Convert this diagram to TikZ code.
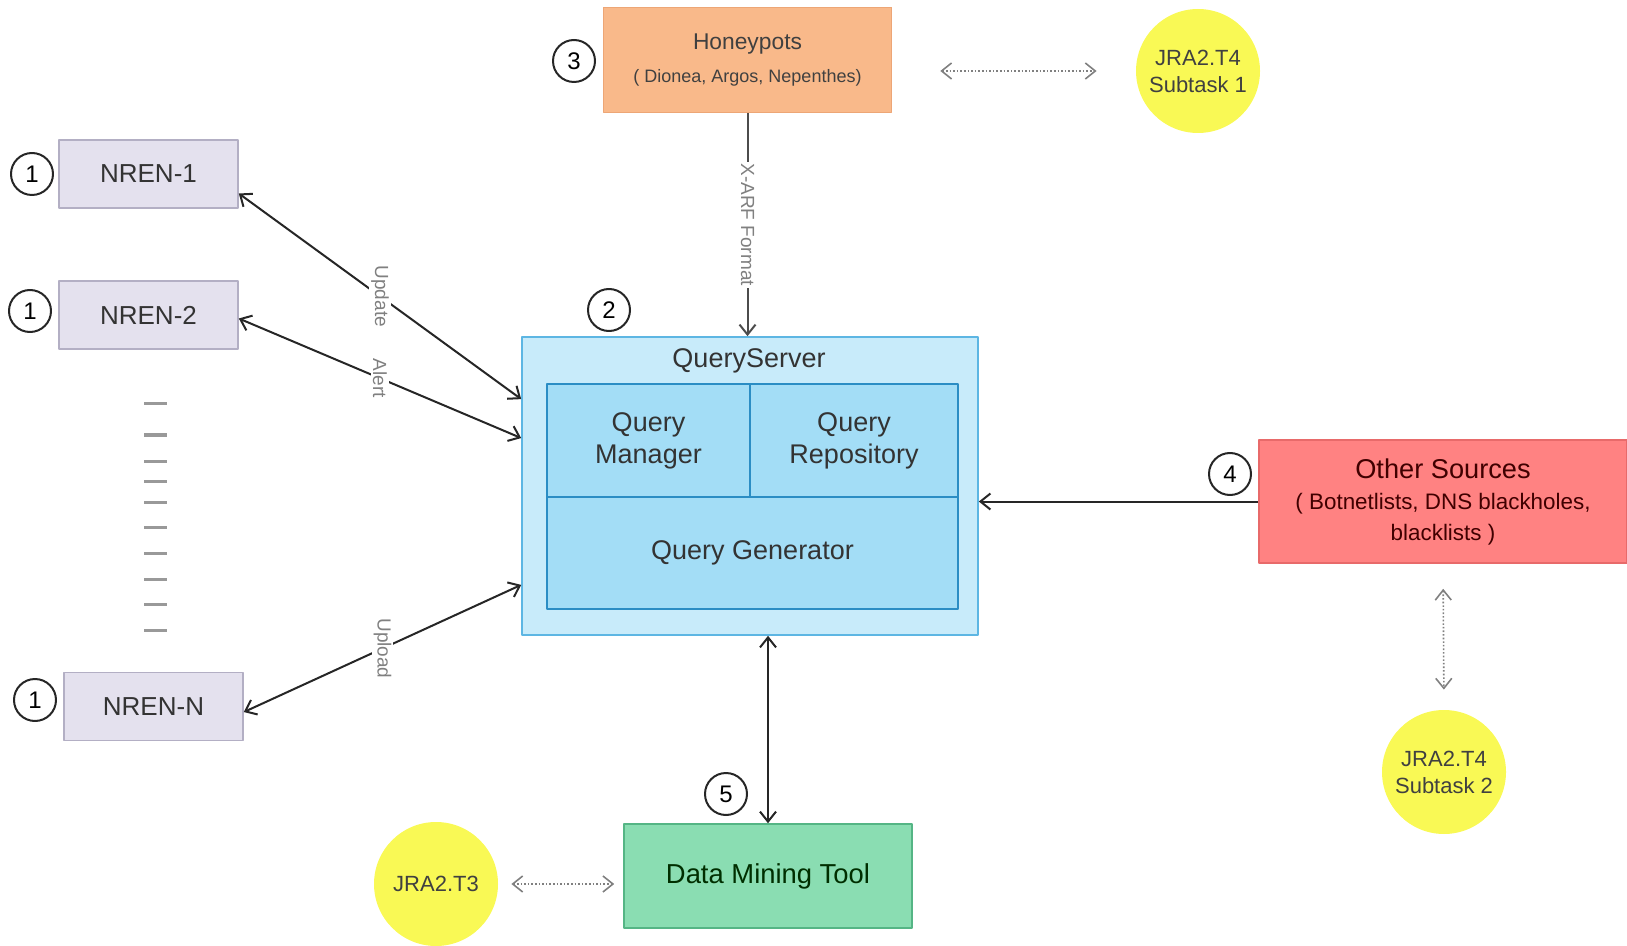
\documentclass[tikz,border=0pt]{standalone}
\usepackage{fontspec}
\setmainfont{Liberation Sans}
\usetikzlibrary{arrows.meta,calc}
\definecolor{nrenfill}{HTML}{E4E1EE}
\definecolor{nrendraw}{HTML}{B3AFC4}
\definecolor{hpfill}{HTML}{F9B98A}
\definecolor{hpdraw}{HTML}{EDA676}
\definecolor{qsfill}{HTML}{C8EBFA}
\definecolor{qsdraw}{HTML}{5DB6E3}
\definecolor{qfill}{HTML}{A3DDF6}
\definecolor{qdraw}{HTML}{2B8DC4}
\definecolor{otherfill}{HTML}{FF8282}
\definecolor{otherdraw}{HTML}{E86A6A}
\definecolor{dmtfill}{HTML}{8ADDB2}
\definecolor{dmtdraw}{HTML}{55B585}
\definecolor{taskyellow}{HTML}{F9F955}
\definecolor{txtgray}{HTML}{333333}
\begin{document}
\begin{tikzpicture}[x=0.5pt,y=-0.5pt,line join=round,>={Straight Barb[length=5pt,width=8pt]},
	box/.style={draw,line width=0.8pt,inner sep=0pt,align=center,text=txtgray},
	nren/.style={box,fill=nrenfill,draw=nrendraw,minimum width=89.5pt,minimum height=34pt,font=\fontsize{13}{15}\selectfont},
	qpart/.style={box,fill=qfill,draw=qdraw,font=\fontsize{13.5}{16}\selectfont},
	num/.style={circle,draw=black!85,line width=1pt,minimum size=21pt,inner sep=0pt,font=\fontsize{12}{14}\selectfont},
	task/.style={circle,fill=taskyellow,minimum size=62pt,inner sep=0pt,align=center,text=black!75,font=\fontsize{11}{13.5}\selectfont},
	flow/.style={<->,line width=1pt,draw=black!85},
	link/.style={<->,densely dotted,line width=0.8pt,draw=gray},
	tag/.style={fill=white,inner sep=1pt,rotate=-90,text=gray,font=\fontsize{9.5}{11}\selectfont}]
	\useasboundingbox (0,0) rectangle (1627,946);
	% NRENs
	\node[nren] (nren1) at (148.5,174) {NREN-1};
	\node[nren] (nren2) at (148.5,315) {NREN-2};
	\node[nren] (nrenN) at (153.5,706.5) {NREN-N};
	\foreach \y in {404,435,461,481,502,527,553,579,604,630}
		\draw[gray!80,line width=1.5pt] (144,\y) -- (167,\y);
	% query server
	\node[box,fill=qsfill,draw=qsdraw,minimum width=228pt,minimum height=149pt] (qs) at (750,486) {};
	\node[text=txtgray,font=\fontsize{13.5}{16}\selectfont] (qstitle) at (749,361) {QueryServer};
	\node[qpart,minimum width=101.5pt,minimum height=56.5pt] (qm) at (648.5,440.5) {Query\\Manager};
	\node[qpart,minimum width=104pt,minimum height=56.5pt] (qr) at (854,440.5) {Query\\Repository};
	\node[qpart,minimum width=205.5pt,minimum height=56pt] (qg) at (752.5,553) {Query Generator};
	% sources and tool
	\node[box,fill=hpfill,draw=hpdraw,text=black!75,minimum width=144pt,minimum height=52.5pt,font=\fontsize{11.4}{16.5}\selectfont] (hp) at (747.5,60)
		{Honeypots\\\fontsize{9}{16.5}\selectfont( Dionea, Argos, Nepenthes)};
	\node[box,fill=otherfill,draw=otherdraw,text=black!75!red,minimum width=184pt,minimum height=61.5pt,font=\fontsize{13.6}{15.5}\selectfont] (other) at (1443,501.5)
		{Other Sources\\\fontsize{11.2}{15.5}\selectfont( Botnetlists, DNS blackholes,\\\fontsize{11.2}{15.5}\selectfont blacklists )};
	\node[box,fill=dmtfill,draw=dmtdraw,text=black!70!green!60!black,minimum width=144pt,minimum height=52pt,font=\fontsize{13.7}{16}\selectfont] (dmt) at (768,876) {Data Mining Tool};
	\node[task] (jt1) at (1198,71) {JRA2.T4\\Subtask 1};
	\node[task] (jt2) at (1444,772) {JRA2.T4\\Subtask 2};
	\node[task] (jt3) at (436,884) {JRA2.T3};
	% numbers
	\node[num] (n1a) at (32,174) {1};
	\node[num] (n1b) at (30,311) {1};
	\node[num] (n1c) at (35,700) {1};
	\node[num] (n2) at (609,310) {2};
	\node[num] (n3) at (574,61) {3};
	\node[num] (n4) at (1230,474) {4};
	\node[num] (n5) at (726,794) {5};
	% connectors
	\draw[flow] ($(nren1.north east)!0.78!(nren1.south east)$) -- node[tag] {Update} ($(qs.north west)!0.21!(qs.south west)$);
	\draw[flow] ($(nren2.north east)!0.55!(nren2.south east)$) -- node[tag] {Alert} ($(qs.north west)!0.34!(qs.south west)$);
	\draw[flow] ($(nrenN.north east)!0.58!(nrenN.south east)$) -- node[tag] {Upload} ($(qs.north west)!0.83!(qs.south west)$);
	\draw[->,line width=1pt,draw=black!70] (hp.south) -- node[tag] {X-ARF Format} (hp.south |- qs.north);
	\draw[->,line width=1pt,draw=black!85] (other.west) -- (other.west -| qs.east);
	\draw[flow] (dmt.north |- qs.south) -- (dmt.north);
	\draw[link,shorten <=24pt,shorten >=19.5pt] (jt1.west -| hp.east) -- (jt1.west);
	\draw[link,shorten <=12.5pt,shorten >=10pt] (other.south) -- (jt2.north);
	\draw[link,shorten <=6.5pt,shorten >=4.5pt] (jt3.east) -- (jt3.east -| dmt.west);
\end{tikzpicture}
\end{document}
